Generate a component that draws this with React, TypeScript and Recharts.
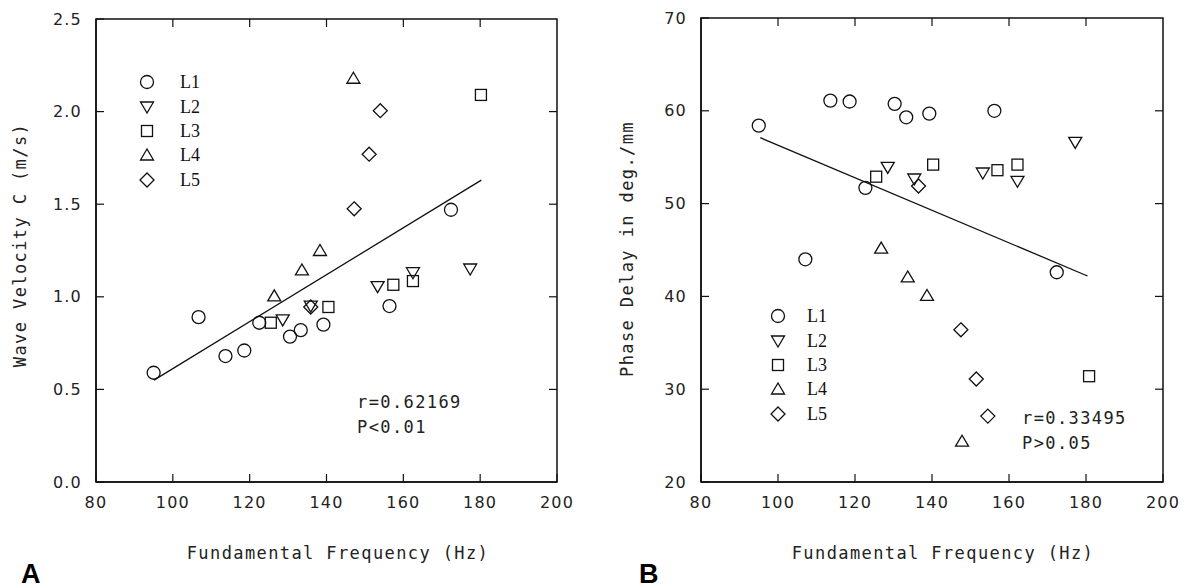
import { Legend, ReferenceArea, ReferenceLine, Scatter, ScatterChart, XAxis, YAxis } from "recharts";

type Pt = { f: number; v: number };

const layerNames = ["L1", "L2", "L3", "L4", "L5"];
const freqTicks = [80, 100, 120, 140, 160, 180, 200];
const velocityTicks = [0, 0.5, 1, 1.5, 2, 2.5];
const phaseTicks = [20, 30, 40, 50, 60, 70];

// panel A: wave velocity (m/s) vs fundamental frequency (Hz)
const velL1: Pt[] = [
  { f: 95, v: 0.59 }, { f: 106.7, v: 0.89 }, { f: 113.7, v: 0.68 }, { f: 118.6, v: 0.71 },
  { f: 122.5, v: 0.86 }, { f: 130.5, v: 0.785 }, { f: 133.3, v: 0.82 }, { f: 139.2, v: 0.85 },
  { f: 156.4, v: 0.95 }, { f: 172.4, v: 1.47 },
];
const velL2: Pt[] = [
  { f: 128.6, v: 0.875 }, { f: 135.9, v: 0.95 }, { f: 153.3, v: 1.055 }, { f: 162.5, v: 1.13 }, { f: 177.4, v: 1.15 },
];
const velL3: Pt[] = [
  { f: 125.5, v: 0.86 }, { f: 140.5, v: 0.945 }, { f: 157.4, v: 1.065 }, { f: 162.5, v: 1.085 }, { f: 180.2, v: 2.09 },
];
const velL4: Pt[] = [{ f: 126.4, v: 1.005 }, { f: 133.6, v: 1.145 }, { f: 138.3, v: 1.25 }, { f: 147, v: 2.18 }];
const velL5: Pt[] = [{ f: 135.9, v: 0.945 }, { f: 147.2, v: 1.475 }, { f: 151.1, v: 1.77 }, { f: 154, v: 2.005 }];
const velFit: Pt[] = [{ f: 95.1, v: 0.55 }, { f: 180.3, v: 1.63 }];

// panel B: phase delay (deg/mm) vs fundamental frequency (Hz)
const phaseL1: Pt[] = [
  { f: 95, v: 58.4 }, { f: 107.1, v: 44.0 }, { f: 113.6, v: 61.1 }, { f: 118.6, v: 61.0 },
  { f: 122.7, v: 51.7 }, { f: 130.3, v: 60.75 }, { f: 133.3, v: 59.3 }, { f: 139.3, v: 59.7 },
  { f: 156.2, v: 60.0 }, { f: 172.4, v: 42.6 },
];
const phaseL2: Pt[] = [
  { f: 128.5, v: 53.9 }, { f: 135.4, v: 52.65 }, { f: 153.2, v: 53.3 }, { f: 162.2, v: 52.4 }, { f: 177.2, v: 56.6 },
];
const phaseL3: Pt[] = [
  { f: 125.5, v: 52.9 }, { f: 140.3, v: 54.2 }, { f: 157.0, v: 53.6 }, { f: 162.2, v: 54.2 }, { f: 180.8, v: 31.4 },
];
const phaseL4: Pt[] = [{ f: 126.8, v: 45.2 }, { f: 133.7, v: 42.1 }, { f: 138.7, v: 40.1 }, { f: 147.8, v: 24.4 }];
const phaseL5: Pt[] = [{ f: 136.5, v: 51.9 }, { f: 147.5, v: 36.4 }, { f: 151.5, v: 31.1 }, { f: 154.5, v: 27.1 }];
const phaseFit: Pt[] = [{ f: 95.4, v: 57.1 }, { f: 180.4, v: 42.2 }];

const INK = "#111";
const tickFont = { fontFamily: "'DejaVu Sans'", fontSize: 16, letterSpacing: 1.2, fill: "#222" };
const labelFont = { fontFamily: "'DejaVu Sans Mono'", fontSize: 17, letterSpacing: 1.4, fill: "#222" };

function Marker({ cx, cy, kind }: { cx?: number; cy?: number; kind: string }) {
  if (cx == null || cy == null) return null;
  const s = { fill: "none", stroke: INK, strokeWidth: 1.3 };
  switch (kind) {
    case "L1":
      return <circle cx={cx} cy={cy} r={6.5} {...s} />;
    case "L2":
      return <polygon points={`${cx - 6.5},${cy - 5} ${cx + 6.5},${cy - 5} ${cx},${cy + 6}`} {...s} />;
    case "L3":
      return <rect x={cx - 5.5} y={cy - 5.5} width={11} height={11} {...s} />;
    case "L4":
      return <polygon points={`${cx - 6.5},${cy + 5} ${cx + 6.5},${cy + 5} ${cx},${cy - 6}`} {...s} />;
    default:
      return <polygon points={`${cx},${cy - 7} ${cx + 7},${cy} ${cx},${cy + 7} ${cx - 7},${cy}`} {...s} />;
  }
}

function KeyBox({ payload, gap }: { payload?: Array<{ value: string }>; gap: number }) {
  return (
    <div>
      {(payload ?? []).map((e) => (
        <div key={e.value} style={{ display: "flex", alignItems: "center", height: 24.4 }}>
          <svg width={16} height={16}>
            <Marker cx={8} cy={8} kind={e.value} />
          </svg>
          <span style={{ marginLeft: gap, fontFamily: "'Liberation Serif'", fontSize: 18, color: INK, lineHeight: 1 }}>
            {e.value}
          </span>
        </div>
      ))}
    </div>
  );
}

const bottomTick = (p: any) => (
  <g>
    <line x1={p.x} x2={p.x} y1={p.y} y2={p.y - 8} stroke={INK} strokeWidth={1.2} />
    <text x={p.x} y={p.y + 20} dy="0.35em" textAnchor="middle" {...tickFont}>
      {p.payload.value}
    </text>
  </g>
);
const leftTick = (digits: number) => (p: any) => (
  <g>
    <line x1={p.x} x2={p.x + 8} y1={p.y} y2={p.y} stroke={INK} strokeWidth={1.2} />
    <text x={p.x - 14} y={p.y} dy="0.35em" textAnchor="end" {...tickFont}>
      {Number(p.payload.value).toFixed(digits)}
    </text>
  </g>
);

// mirrored inward ticks on the top and right edges of the frame
const topMark = (p: any) => {
  const y = Math.min(p.y1, p.y2);
  return <line x1={p.x1} x2={p.x1} y1={y} y2={y + 8} stroke={INK} strokeWidth={1.2} />;
};
const rightMark = (p: any) => {
  const x = Math.max(p.x1, p.x2);
  return <line x1={x} x2={x - 8} y1={p.y1} y2={p.y1} stroke={INK} strokeWidth={1.2} />;
};

type PanelProps = {
  width: number;
  yWidth: number;
  top: number;
  right: number;
  yDomain: [number, number];
  yTicks: number[];
  digits: number;
  layers: Pt[][];
  fit: Pt[];
  yLabel: string;
  yLabelX: number;
  yLabelY: number;
  xLabelX: number;
  stats: string[];
  statsX: number;
  statsY: number[];
  keyLeft: number;
  keyTop: number;
  keyGap: number;
  letter: string;
  letterX: number;
};

function Panel(p: PanelProps) {
  return (
    <ScatterChart width={p.width} height={588} margin={{ top: p.top, right: p.right, bottom: 76, left: 0 }}>
      <XAxis
        dataKey="f"
        type="number"
        domain={[80, 200]}
        ticks={freqTicks}
        interval={0}
        height={30}
        tickSize={0}
        tickMargin={0}
        tick={bottomTick}
        axisLine={{ stroke: INK, strokeWidth: 1.5 }}
        tickLine={false}
        allowDataOverflow
      />
      <YAxis
        dataKey="v"
        type="number"
        domain={p.yDomain}
        ticks={p.yTicks}
        interval={0}
        width={p.yWidth}
        tickSize={0}
        tickMargin={0}
        tick={leftTick(p.digits)}
        axisLine={{ stroke: INK, strokeWidth: 1.5 }}
        tickLine={false}
        allowDataOverflow
      />
      <ReferenceArea
        x1={80}
        x2={200}
        y1={p.yDomain[0]}
        y2={p.yDomain[1]}
        fill="none"
        fillOpacity={0}
        stroke={INK}
        strokeWidth={1.5}
        ifOverflow="visible"
      />
      {freqTicks.slice(1, -1).map((t) => (
        <ReferenceLine key={`t${t}`} x={t} shape={topMark} ifOverflow="visible" />
      ))}
      {p.yTicks.slice(1, -1).map((t) => (
        <ReferenceLine key={`r${t}`} y={t} shape={rightMark} ifOverflow="visible" />
      ))}
      <ReferenceLine
        segment={[{ x: p.fit[0].f, y: p.fit[0].v }, { x: p.fit[1].f, y: p.fit[1].v }]}
        stroke={INK}
        strokeWidth={1.3}
        ifOverflow="visible"
      />
      {p.layers.map((pts, i) => (
        <Scatter
          key={layerNames[i]}
          name={layerNames[i]}
          data={pts}
          isAnimationActive={false}
          shape={(sp: any) => <Marker cx={sp.cx} cy={sp.cy} kind={layerNames[i]} />}
        />
      ))}
      <Legend
        layout="vertical"
        align="center"
        verticalAlign="middle"
        wrapperStyle={{ left: p.keyLeft, top: p.keyTop, width: 80 }}
        content={(lp: any) => <KeyBox payload={lp.payload} gap={p.keyGap} />}
      />
      <text
        x={p.yLabelX}
        y={p.yLabelY}
        dy="0.35em"
        textAnchor="middle"
        transform={`rotate(-90, ${p.yLabelX}, ${p.yLabelY})`}
        {...labelFont}
      >
        {p.yLabel}
      </text>
      <text x={p.xLabelX} y={553} dy="0.35em" textAnchor="middle" {...labelFont}>
        Fundamental Frequency (Hz)
      </text>
      {p.stats.map((s, i) => (
        <text key={s} x={p.statsX} y={p.statsY[i]} dy="0.35em" {...labelFont}>
          {s}
        </text>
      ))}
      <text x={p.letterX} y={583} fontFamily="'Liberation Sans'" fontWeight="bold" fontSize={27} fill="#000">
        {p.letter}
      </text>
    </ScatterChart>
  );
}

export default function App() {
  return (
    <div style={{ position: "absolute", left: 0, top: 0, width: 1187, height: 588, background: "#fff" }}>
      <div style={{ position: "absolute", left: 0, top: 0 }}>
        <Panel
          width={590}
          yWidth={96}
          top={19}
          right={33}
          yDomain={[0, 2.5]}
          yTicks={velocityTicks}
          digits={1}
          layers={[velL1, velL2, velL3, velL4, velL5]}
          fit={velFit}
          yLabel="Wave Velocity C (m/s)"
          yLabelX={20}
          yLabelY={245}
          xLabelX={338}
          stats={["r=0.62169", "P<0.01"]}
          statsX={357}
          statsY={[402, 427]}
          keyLeft={139}
          keyTop={70}
          keyGap={25}
          letter="A"
          letterX={21}
        />
      </div>
      <div style={{ position: "absolute", left: 595, top: 0 }}>
        <Panel
          width={592}
          yWidth={106}
          top={18}
          right={24}
          yDomain={[20, 70]}
          yTicks={phaseTicks}
          digits={0}
          layers={[phaseL1, phaseL2, phaseL3, phaseL4, phaseL5]}
          fit={phaseFit}
          yLabel="Phase Delay in deg./mm"
          yLabelX={32}
          yLabelY={249}
          xLabelX={348}
          stats={["r=0.33495", "P>0.05"]}
          statsX={427}
          statsY={[418, 443]}
          keyLeft={175}
          keyTop={304}
          keyGap={21}
          letter="B"
          letterX={44}
        />
      </div>
    </div>
  );
}
